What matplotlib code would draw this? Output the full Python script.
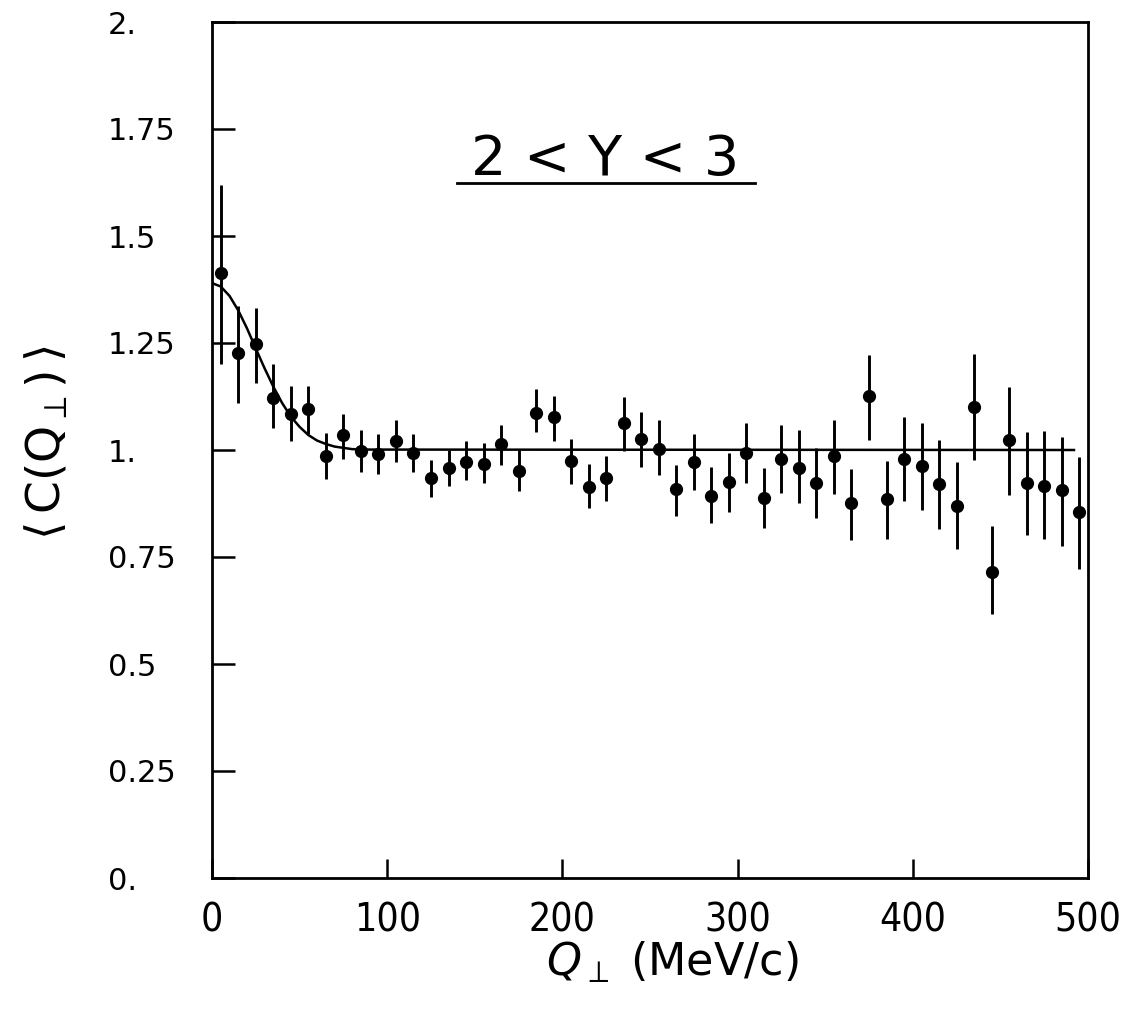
import matplotlib
matplotlib.use("Agg")
import matplotlib.pyplot as plt
from matplotlib.lines import Line2D

# ---- data ----
q_perp = [5, 15, 25, 35, 45, 55, 65, 75, 85, 95,
          105, 115, 125, 135, 145, 155, 165, 175, 185, 195,
          205, 215, 225, 235, 245, 255, 265, 275, 285, 295,
          305, 315, 325, 335, 345, 355, 365, 375, 385, 395,
          405, 415, 425, 435, 445, 455, 465, 475, 485, 495]
c_mean = [1.414, 1.227, 1.248, 1.122, 1.084, 1.096, 0.985, 1.034, 0.998, 0.991,
          1.022, 0.992, 0.935, 0.959, 0.971, 0.967, 1.014, 0.951, 1.087, 1.076,
          0.975, 0.914, 0.934, 1.062, 1.025, 1.003, 0.908, 0.972, 0.893, 0.925,
          0.994, 0.887, 0.979, 0.958, 0.923, 0.985, 0.876, 1.126, 0.886, 0.978,
          0.962, 0.920, 0.868, 1.101, 0.716, 1.023, 0.922, 0.917, 0.906, 0.856]
c_upper = [1.620, 1.336, 1.332, 1.200, 1.149, 1.149, 1.039, 1.083, 1.046, 1.038,
           1.070, 1.037, 0.976, 0.999, 1.020, 1.016, 1.058, 1.000, 1.143, 1.127,
           1.026, 0.968, 0.985, 1.125, 1.088, 1.070, 0.966, 1.037, 0.960, 0.993,
           1.064, 0.959, 1.058, 1.046, 1.005, 1.069, 0.955, 1.221, 0.975, 1.078,
           1.064, 1.023, 0.973, 1.224, 0.823, 1.148, 1.043, 1.045, 1.031, 0.984]
c_lower = [1.200, 1.109, 1.157, 1.052, 1.021, 1.038, 0.932, 0.978, 0.949, 0.943,
           0.973, 0.948, 0.890, 0.915, 0.929, 0.923, 0.965, 0.905, 1.043, 1.020,
           0.921, 0.865, 0.881, 0.997, 0.960, 0.942, 0.845, 0.907, 0.830, 0.855,
           0.922, 0.817, 0.900, 0.877, 0.842, 0.897, 0.790, 1.024, 0.793, 0.881,
           0.860, 0.816, 0.768, 0.977, 0.616, 0.895, 0.801, 0.792, 0.775, 0.723]

fit_q = [0, 5, 10, 15, 20, 25, 30, 35, 40, 45, 50, 55, 60, 65, 70, 80, 90, 492]
fit_c = [1.390, 1.382, 1.360, 1.326, 1.284, 1.237, 1.191, 1.148, 1.110, 1.078,
         1.054, 1.035, 1.022, 1.014, 1.008, 1.002, 1.001, 1.000]

x_ticks = [0, 100, 200, 300, 400, 500]
x_ticklabels = ["0", "100", "200", "300", "400", "500"]
y_ticks = [0, 0.25, 0.5, 0.75, 1.0, 1.25, 1.5, 1.75, 2.0]
y_ticklabels = ["0.", "0.25", "0.5", "0.75", "1.", "1.25", "1.5", "1.75", "2."]

title_text = "2 < Y < 3"
x_label = r"$Q_{\perp}$ (MeV/c)"
y_label = r"$\langle\, \mathrm{C}(\mathrm{Q}_{\perp}) \,\rangle$"

# ---- figure ----
W, H = 1133, 1009
fig = plt.figure(figsize=(W / 100, H / 100), dpi=100)
ax = fig.add_axes([212 / W, 1 - 878 / H, 876 / W, 856 / H])

yerr = [[m - lo for m, lo in zip(c_mean, c_lower)],
        [hi - m for m, hi in zip(c_mean, c_upper)]]
ax.errorbar(q_perp, c_mean, yerr=yerr, fmt="o", color="black", ms=8.5,
            elinewidth=2.1, capsize=0, zorder=3)
ax.plot(fit_q, fit_c, color="black", lw=1.8, zorder=2)

ax.set_xlim(0, 500)
ax.set_ylim(0, 2)
for s in ax.spines.values():
    s.set_linewidth(2.0)

ax.set_xticks(x_ticks)
ax.set_xticklabels(x_ticklabels, family="DejaVu Sans", fontstretch="condensed",
                   fontsize=28)
ax.set_yticks(y_ticks)
ax.set_yticklabels(y_ticklabels, fontsize=22, ha="left")
ax.tick_params(axis="x", direction="in", length=14, width=1.8, pad=17)
ax.tick_params(axis="y", direction="in", length=16.5, width=1.8, pad=75)

# title with underline
ax.text(0.449, 0.821, title_text, transform=ax.transAxes, ha="center",
        va="baseline", fontsize=40, family="DejaVu Sans",
        fontweight="normal")
ax.add_line(Line2D([0.28, 0.62], [0.812, 0.812], transform=ax.transAxes,
                   color="black", lw=2.0))

fig.text(672 / W, 1 - 962 / H, x_label, ha="center", va="center", fontsize=32)
fig.text(47 / W, 1 - 443 / H, y_label, ha="center", va="center", fontsize=34,
         rotation=90)

fig.savefig("out.png", dpi=100)
